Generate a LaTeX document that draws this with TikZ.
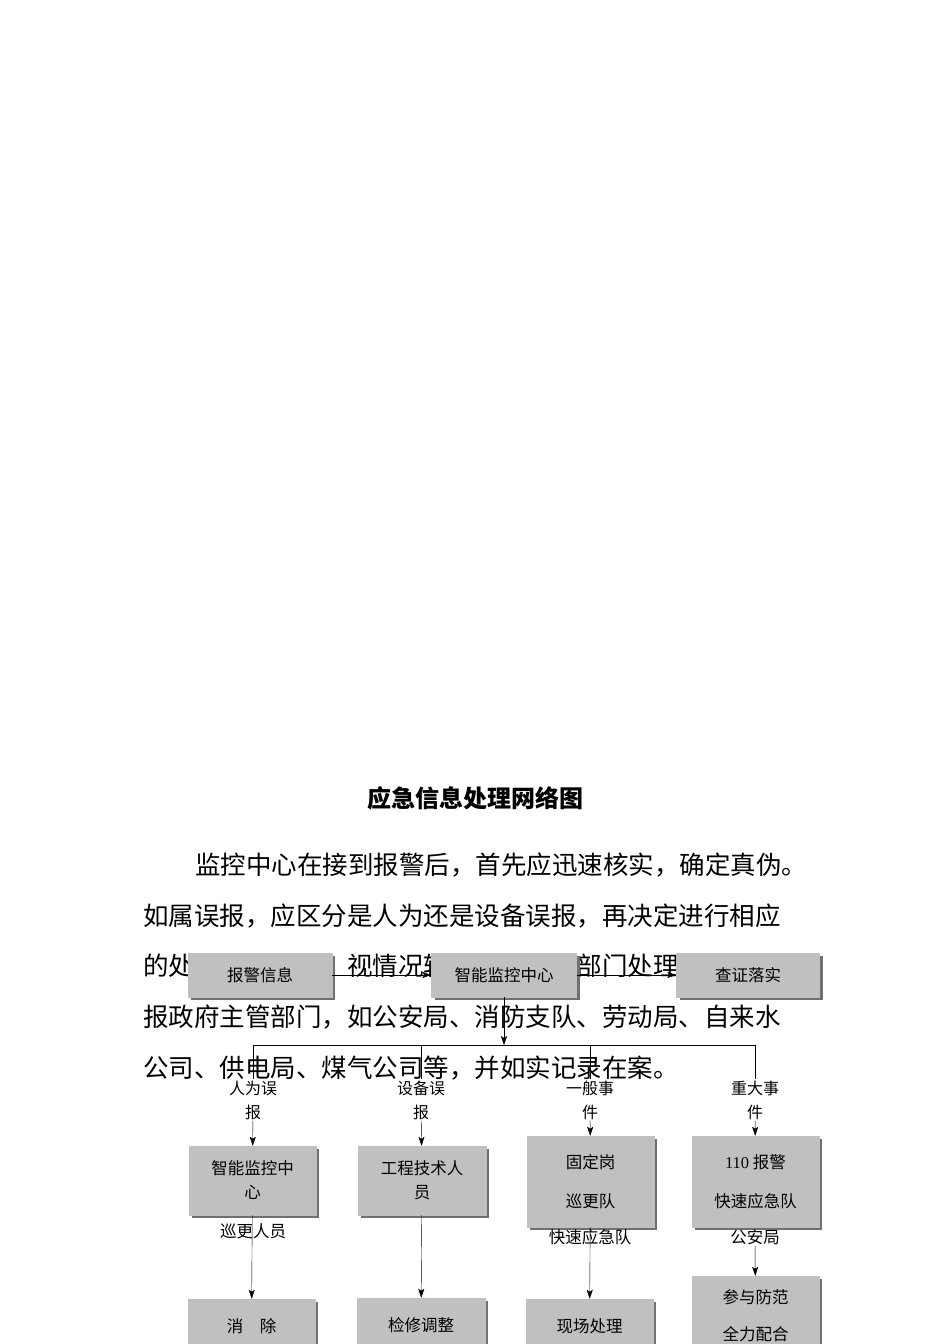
\documentclass[tikz,border=0pt]{standalone}
\usepackage{fontspec}
\setmainfont{Noto Sans CJK SC}
\newfontfamily\serifnum{Liberation Serif}
\usetikzlibrary{shadows}
\usetikzlibrary{calc}
\usetikzlibrary{arrows.meta}
\definecolor{boxgray}{HTML}{c0c0c0}
\definecolor{shadegray}{HTML}{707070}

\begin{document}
\begin{tikzpicture}[x=1pt, y=-1pt, -{Stealth[length=9pt,width=6pt,inset=2pt]},
box/.style = {shape=rectangle, fill=boxgray, draw=boxgray, align=center,
  font=\fontsize{16.5}{24}\selectfont, inner sep=2pt,
  drop shadow={shadow xshift=3pt, shadow yshift=-3pt, fill=shadegray, opacity=1}},
tag/.style = {align=center, font=\fontsize{16}{24}\selectfont, inner sep=1pt},
ghost/.style = {font=\fontsize{16.5}{20}\selectfont, inner sep=1pt, text=black},
body/.style = {anchor=west, font=\fontsize{25.5}{30}\selectfont, inner sep=0pt}
]
\useasboundingbox[fill=white] (0,0) rectangle (950,1344);

% title and text
\node (title) at (475,798) [inner sep=0pt, font=\bfseries\fontsize{24}{28}\selectfont] {应急信息处理网络图};
\node (l1) at (195,865) [body] {监控中心在接到报警后，首先应迅速核实，确定真伪。};
\node (l2) at (143,916) [body] {如属误报，应区分是人为还是设备误报，再决定进行相应};
\node (l3) at (143,967) [body] {的处理；如属实，视情况转交有关职能部门处理，或上};
\node (l4) at (143,1017) [body] {报政府主管部门，如公安局、消防支队、劳动局、自来水};
\node (l5) at (143,1068) [body] {公司、供电局、煤气公司等，并如实记录在案。};

% top row
\node (alarm) at (260,975) [box, minimum width=144, minimum height=44] {报警信息};
\node (center) at (504,975) [box, minimum width=145, minimum height=44] {智能监控中心};
\node (verify) at (748,975) [box, minimum width=143, minimum height=44] {查证落实};
\draw (alarm) -- (center);
\draw (center) -- (verify);

% bus
\coordinate (bus) at (504,1045);
\coordinate (b1) at (253,1045);
\coordinate (b2) at (421,1045);
\coordinate (b3) at (590,1045);
\coordinate (b4) at (755,1045);
\draw (center) -- (bus);
\draw[-] (b1) -- (b4);

\node (human) at (253,1100) [tag] {人为误\\报};
\node (device) at (421,1100) [tag] {设备误\\报};
\node (normal) at (590,1100) [tag] {一般事\\件};
\node (major) at (755,1100) [tag] {重大事\\件};
\foreach \b/\t in {b1/human, b2/device, b3/normal, b4/major}
  \draw[-] (\b) -- (\t.north);

% second row
\node (monitor) at (252.5,1180.5) [box, minimum width=127, minimum height=69] {智能监控中\\心};
\node (engineer) at (422,1180.5) [box, minimum width=128, minimum height=69] {工程技术人\\员};
\node (patrol) at (590.5,1181.5) [box, minimum width=127, minimum height=91, font=\fontsize{16.5}{39}\selectfont] {固定岗\\巡更队};
\node (police) at (755.5,1181.5) [box, minimum width=127, minimum height=91, font=\fontsize{16.5}{39}\selectfont] {{\serifnum 110} 报警\\快速应急队};
\foreach \t/\n in {human/monitor, device/engineer, normal/patrol, major/police}
  \draw (\t) -- (\n);

\node (guard) at (253,1231) [ghost] {巡更人员};
\node (rapid) at (590,1237) [ghost] {快速应急队};
\node (bureau) at (755,1237) [ghost] {公安局};

% bottom row
\node (clear) at (251.5,1326) [box, minimum width=127, minimum height=54] {消\quad 除};
\node (repair) at (421,1325) [box, minimum width=128, minimum height=54] {检修调整};
\node (scene) at (589.5,1326) [box, minimum width=127, minimum height=54] {现场处理};
\node (assist) at (755.5,1316) [box, minimum width=127, minimum height=80, font=\fontsize{16.5}{37}\selectfont] {参与防范\\全力配合};
\draw (monitor) -- (clear);
\draw (engineer) -- (repair);
\draw (patrol) -- (scene);
\draw (bureau) -- (assist);
\end{tikzpicture}
\end{document}
